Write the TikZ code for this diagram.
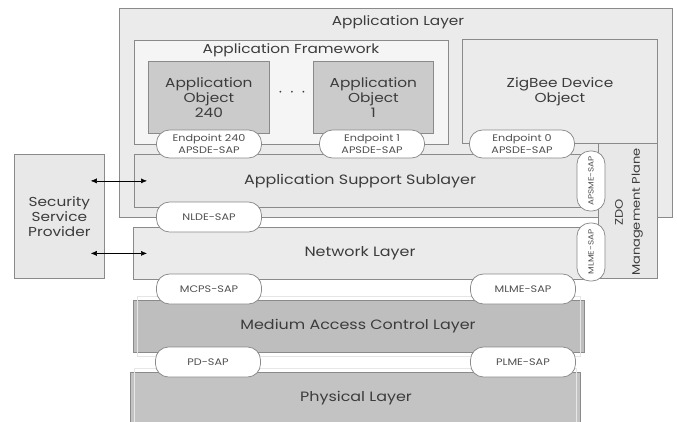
\documentclass[tikz,border=0pt]{standalone}
\usepackage{fontspec}
\setmainfont{Poppins}[FakeStretch=1.18]
\usetikzlibrary{arrows.meta}

\definecolor{lineGray}{RGB}{138,138,138}
\definecolor{txtGray}{RGB}{60,60,60}
\definecolor{sapTxt}{RGB}{80,80,80}
\definecolor{appFill}{RGB}{235,235,235}
\definecolor{fwFill}{RGB}{245,245,245}
\definecolor{objFill}{RGB}{203,203,203}
\definecolor{layerFill}{RGB}{232,232,232}
\definecolor{macFill}{RGB}{190,190,190}
\definecolor{phyFill}{RGB}{195,195,195}

\tikzset{every picture/.style={line width=0.75pt}}
\tikzset{
  layerbox/.style={draw=lineGray, anchor=north west, inner sep=0pt},
  sapoval/.style={draw=lineGray, fill=white, rounded corners=13pt, minimum width=105pt, minimum height=28pt, inner sep=0pt, font=\fontsize{9.5}{11.5}\selectfont, text=sapTxt, align=center},
  vsapoval/.style={sapoval, minimum width=60pt, minimum height=28pt, rotate=90, font=\fontsize{7.5}{9}\selectfont},
  lbl/.style={text=txtGray, inner sep=0pt, align=center, font=\fontsize{13}{15}\selectfont},
  biarrow/.style={{Latex[length=6pt,width=5pt]}-{Latex[length=6pt,width=5pt]}, line width=0.5pt}
}

\begin{document}
\begin{tikzpicture}[x=1pt,y=1pt,yscale=-1]
\useasboundingbox (0,0) rectangle (677,421);

%Shape: Application Layer
\node [layerbox, fill=appFill, minimum width=553pt, minimum height=209pt] (app) at (119,8) {};
%Shape: Application Framework
\node [layerbox, fill=fwFill, minimum width=314pt, minimum height=104pt] (fw) at (134,40) {};
%Shape: Application Objects
\node [layerbox, fill=objFill, minimum width=121pt, minimum height=72pt] (obj240) at (148,61) {};
\node [layerbox, fill=objFill, minimum width=120pt, minimum height=72pt] (obj1) at (313,61) {};
%Shape: ZigBee Device Object
\node [layerbox, fill=appFill, minimum width=195pt, minimum height=104pt] (zdo) at (462,39) {};
%Shape: ZDO Management Plane
\node [layerbox, fill=layerFill, minimum width=59pt, minimum height=135pt] (mgmt) at (598,143) {};
%Shape: Application Support Sublayer
\node [layerbox, fill=layerFill, minimum width=456pt, minimum height=53pt] (aps) at (134,154) {};
%Shape: Network Layer
\node [layerbox, fill=appFill, minimum width=457pt, minimum height=52pt] (nwk) at (133,227) {};
%Shape: Medium Access Control Layer
\node [layerbox, fill=macFill, minimum width=451pt, minimum height=52pt] (mac) at (133,300) {};
\draw [draw=white!60!macFill] ([shift={(4pt,-4pt)}]mac.north west) rectangle ([shift={(-4pt,4pt)}]mac.south east);
%Shape: Physical Layer
\node [layerbox, fill=phyFill, minimum width=450pt, minimum height=52pt] (phy) at (130,372) {};
\draw [draw=white!60!phyFill] ([shift={(4pt,-4pt)}]phy.north west) -- ([shift={(-4pt,-4pt)}]phy.north east) -- ([shift={(-4pt,4pt)}]phy.south east);
\draw [draw=white!60!phyFill] ([shift={(4pt,-4pt)}]phy.north west) -- ([shift={(4pt,4pt)}]phy.south west);
%Shape: Security Service Provider
\node [layerbox, fill=layerFill, minimum width=90pt, minimum height=124pt] (ssp) at (14,154) {};

%Service access points
\node [sapoval] (ep240) at (209,144) {Endpoint 240\\APSDE-SAP};
\node [sapoval] (ep1) at (372,144) {Endpoint 1\\APSDE-SAP};
\node [sapoval] (ep0) at (522,144) {Endpoint 0\\APSDE-SAP};
\node [sapoval, minimum height=30pt] (nlde) at (209,217) {NLDE-SAP};
\node [sapoval, minimum height=30pt] (mcps) at (209,289) {MCPS-SAP};
\node [sapoval, minimum height=30pt] (mlme) at (523,289) {MLME-SAP};
\node [sapoval, minimum height=30pt] (pd) at (208,362) {PD-SAP};
\node [sapoval, minimum height=30pt] (plme) at (523,362) {PLME-SAP};
\node [vsapoval] (apsme) at (591,181) {APSME-SAP};
\node [vsapoval, minimum width=58pt] (mlmev) at (591,252) {MLME-SAP};

%Arrows to the security service provider
\draw [biarrow] ([xshift=-14pt]ssp.east |- aps.west) -- ([xshift=13pt]aps.west);
\draw [biarrow] ([xshift=-14pt]ssp.east |- nwk.west) -- ([xshift=14pt]nwk.west);

% Text Node
\node [lbl] (applbl) at (398,22) {Application Layer};
% Text Node
\node [lbl] (fwlbl) at (291,50) {Application Framework};
% Text Node
\node [lbl] (obj240lbl) at (obj240) {Application\\Object\\240};
% Text Node
\node [lbl] (obj1lbl) at (obj1) {Application\\Object\\1};
% Text Node
\node [lbl, font=\fontsize{16}{16}\selectfont] (dots) at (292,93) {$\cdot\,\cdot\,\cdot$};
% Text Node
\node [lbl] (zdolbl) at (560,92) {ZigBee Device\\Object};
% Text Node
\node [lbl, rotate=90, font=\fontsize{11}{17}\selectfont] (mgmtlbl) at (629,212) {ZDO\\Management Plane};
% Text Node
\node [lbl, font=\fontsize{13.5}{15}\selectfont] (apslbl) at (360,181) {Application Support Sublayer};
% Text Node
\node [lbl, font=\fontsize{13.5}{15}\selectfont] (nwklbl) at (360,253) {Network Layer};
% Text Node
\node [lbl, font=\fontsize{13.5}{15}\selectfont] (maclbl) at (358,326) {Medium Access Control Layer};
% Text Node
\node [lbl, font=\fontsize{13.5}{15}\selectfont] (phylbl) at (356,398) {Physical Layer};
% Text Node
\node [lbl] (ssplbl) at (ssp) {Security\\Service\\Provider};
\end{tikzpicture}
\end{document}
